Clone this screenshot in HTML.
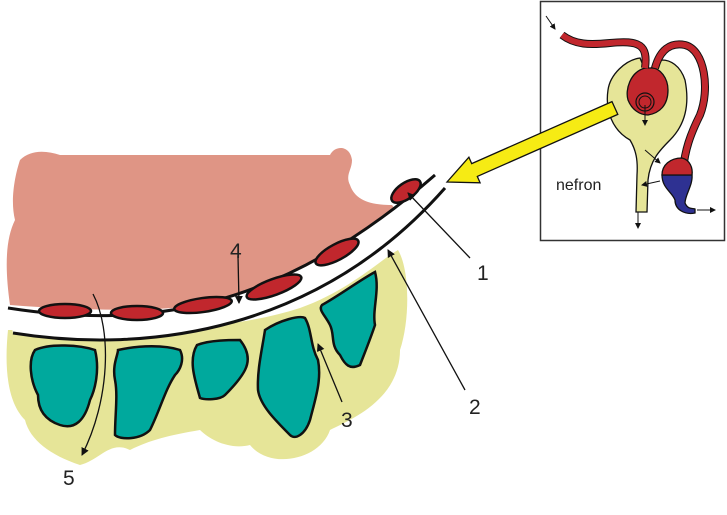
<!DOCTYPE html>
<html><head><style>html,body{margin:0;padding:0;background:#fff}svg{display:block}</style></head><body>
<svg width="727" height="515" viewBox="0 0 727 515" xmlns="http://www.w3.org/2000/svg">
<defs><marker id="ah" markerWidth="8" markerHeight="8" refX="7" refY="4" orient="auto" markerUnits="userSpaceOnUse"><path d="M0,0L8,4L0,8z" fill="#111"/></marker>
<marker id="as" markerWidth="6" markerHeight="6" refX="5" refY="3" orient="auto" markerUnits="userSpaceOnUse"><path d="M0,0L6,3L0,6z" fill="#111"/></marker></defs>
<!-- yellow tissue -->
<path d="M8,330 C60,330 200,340 300,308 C350,290 380,260 398,250 C410,270 410,320 400,350 C400,400 350,420 330,430 C320,460 270,470 250,445 C230,450 210,440 200,430 C170,435 150,440 130,450 C110,440 100,460 80,465 C50,455 30,440 25,420 C5,400 5,360 8,330Z" fill="#e6e598"/>
<!-- pink -->
<path d="M10,305 C5,270 5,240 15,220 C10,200 15,175 20,160 C30,150 45,150 60,155 L330,155 C335,145 350,145 352,160 C352,170 345,175 350,185 C355,200 370,205 392,205 C400,215 400,225 395,235 C300,300 200,320 10,305Z" fill="#df9585"/>
<!-- membrane white -->
<path d="M8,308 C150,330 280,310 435,175 L445,188 C320,330 150,355 13,333Z" fill="#fff"/>
<path d="M8,308 C150,330 280,310 435,175" fill="none" stroke="#111" stroke-width="3"/>
<path d="M13,333 C150,355 320,330 445,188" fill="none" stroke="#111" stroke-width="3"/>
<!-- red cells -->
<g fill="#c1272d" stroke="#111" stroke-width="2.5">
<ellipse cx="65" cy="311" rx="26" ry="7"/>
<ellipse cx="137" cy="313" rx="26" ry="7"/>
<ellipse cx="203" cy="305" rx="29" ry="7" transform="rotate(-8 203 305)"/>
<ellipse cx="274" cy="287" rx="29" ry="8" transform="rotate(-20 274 287)"/>
<ellipse cx="337" cy="252" rx="24" ry="8" transform="rotate(-28 337 252)"/>
<ellipse cx="406" cy="191" rx="17" ry="8" transform="rotate(-35 406 191)"/>
</g>
<!-- teal blobs -->
<g fill="#00a99d" stroke="#111" stroke-width="2.5">
<path d="M35,350 C50,343 80,345 95,350 C100,370 95,390 90,400 C85,420 75,430 60,425 C45,420 38,410 38,395 C30,380 28,360 35,350Z"/>
<path d="M118,350 C140,345 165,345 180,350 C185,360 180,370 175,375 C165,390 160,410 150,430 C140,440 120,440 115,435 C115,415 118,395 115,380 C112,365 118,355 118,350Z"/>
<path d="M197,345 C210,340 230,340 240,340 C248,350 250,360 245,370 C240,380 230,390 225,395 C220,400 205,400 200,398 C195,380 188,360 197,345Z"/>
<path d="M265,330 C280,320 300,315 305,318 C312,330 310,345 318,360 C322,380 315,400 310,420 C305,435 295,440 290,435 C275,420 260,405 258,390 C257,370 262,350 265,330Z"/>
<path d="M322,305 C340,295 360,280 375,272 C380,290 372,310 375,325 C370,340 365,352 360,365 C350,370 345,365 340,355 C330,345 335,335 330,325 C325,315 318,310 322,305Z"/>
</g>
<!-- leaders -->
<g stroke="#111" stroke-width="1.3" fill="none">
<line x1="470" y1="258" x2="408" y2="193" marker-end="url(#ah)"/>
<line x1="465" y1="390" x2="388" y2="250" marker-end="url(#ah)"/>
<line x1="342" y1="402" x2="318" y2="344" marker-end="url(#ah)"/>
<line x1="238" y1="256" x2="239" y2="303" marker-end="url(#ah)"/>
<path d="M93,294 C112,330 110,400 82,455" marker-end="url(#ah)"/>
</g>
<g font-family="Liberation Sans, sans-serif" font-size="21" fill="#222">
<text x="477" y="280">1</text><text x="469" y="414">2</text><text x="341" y="427">3</text><text x="230" y="258">4</text><text x="63" y="485">5</text>
</g>
<!-- box -->
<rect x="540.5" y="1.5" width="184" height="239" fill="#fff" stroke="#333" stroke-width="1.5"/>
<!-- capsule -->
<path d="M640,58 C625,60 610,75 608,90 C605,110 612,130 630,140 C636,150 638,160 637,175 L636,212 L647,212 L648,180 C650,160 660,150 670,140 C685,125 690,105 685,80 C680,65 670,60 662,60 C655,65 650,70 645,70Z" fill="#e6e598" stroke="#111" stroke-width="1.3"/>
<!-- glomerulus -->
<path d="M645,68 C630,72 625,90 628,100 C632,110 640,115 648,115 C660,113 668,105 668,90 C668,78 660,68 652,68Z" fill="#c1272d" stroke="#111" stroke-width="1.3"/>
<circle cx="645" cy="102" r="9" fill="none" stroke="#111" stroke-width="1.2"/>
<circle cx="645" cy="102" r="6" fill="none" stroke="#111" stroke-width="1"/>
<path d="M562,35 C575,45 590,45 610,43 C640,40 648,45 645,68" fill="none" stroke="#111" stroke-width="8"/>
<path d="M562,35 C575,45 590,45 610,43 C640,40 648,45 645,68" fill="none" stroke="#c1272d" stroke-width="6"/>
<path d="M655,68 C660,50 670,42 685,45 C705,50 710,90 700,115 C690,135 685,150 683,170" fill="none" stroke="#111" stroke-width="8"/>
<path d="M655,68 C660,50 670,42 685,45 C705,50 710,90 700,115 C690,135 685,150 683,170" fill="none" stroke="#c1272d" stroke-width="6"/>
<path d="M662,175 L692,175 C693,185 685,195 685,203 C688,210 693,208 695,209 L695,213 C685,215 675,210 675,200 C672,192 662,188 662,175Z" fill="#2e3192" stroke="#111" stroke-width="1.3"/>
<path d="M662,175 C662,165 670,158 682,158 C690,160 693,168 692,175Z" fill="#c1272d" stroke="#111" stroke-width="1.3"/>
<g stroke="#111" stroke-width="1" fill="none">
<line x1="546" y1="16" x2="555" y2="29" marker-end="url(#as)"/>
<line x1="645" y1="105" x2="645" y2="125" marker-end="url(#as)"/>
<line x1="645" y1="150" x2="660" y2="163" marker-end="url(#as)"/>
<line x1="660" y1="181" x2="642" y2="185" marker-end="url(#as)"/>
<line x1="638" y1="212" x2="638" y2="228" marker-end="url(#as)"/>
<line x1="697" y1="210" x2="715" y2="210" marker-end="url(#as)"/>
</g>
<text x="556" y="190" font-family="Liberation Sans, sans-serif" font-size="16" fill="#222">nefron</text>
<!-- yellow arrow -->
<path d="M612,101.6 L617.8,114.4 L477.3,176.4 L480.1,182.8 L447,182 L468.9,157.2 L471.7,163.6 Z" fill="#f6eb14" stroke="#111" stroke-width="1.3"/>
</svg>
</body></html>
